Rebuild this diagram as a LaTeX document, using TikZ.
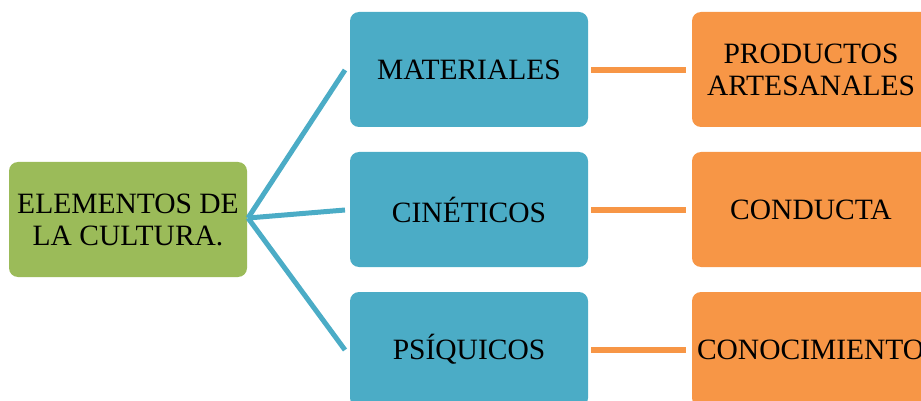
\documentclass[tikz,border=0pt]{standalone}
\usepackage{fontspec}
\setmainfont{Liberation Serif}
\definecolor{cgreen}{HTML}{9BBB59}
\definecolor{cblue}{HTML}{4BACC6}
\definecolor{corange}{HTML}{F79646}
\begin{document}
\begin{tikzpicture}[x=1pt,y=-1pt,
  box/.style={rounded corners=9pt, minimum width=238pt, minimum height=115pt, inner sep=0pt,
    align=center, font=\fontsize{29.5}{32}\selectfont, text=black},
  gbox/.style={box, fill=cgreen},
  bbox/.style={box, fill=cblue},
  obox/.style={box, fill=corange},
  bline/.style={draw=cblue, line width=5pt},
  oline/.style={draw=corange, line width=6pt}]
\useasboundingbox (0,0) rectangle (921,401);
\begin{scope}
\clip (0,0) rectangle (921,401);
\node[gbox] (g) at (128,219.5) {ELEMENTOS DE\\LA CULTURA.};
\node[bbox] (b1) at (469,69.5) {MATERIALES};
\node[bbox] (b2) at (469,209.5) {CINÉTICOS};
\node[bbox] (b3) at (469,349.5) {PSÍQUICOS};
\node[obox] (o1) at (811,69.5) {PRODUCTOS\\ARTESANALES};
\node[obox] (o2) at (811,209.5) {CONDUCTA};
\node[obox, text width=238pt, align=left] (o3) at (811,349.5) {\hspace*{5pt}\makebox[0pt][l]{CONOCIMIENTOS}};
\coordinate (j) at (248,218);
\coordinate (e1) at (345,70);
\coordinate (e2) at (345,210);
\coordinate (e3) at (345,350);
\draw[bline] (j) -- (e1);
\draw[bline] (j) -- (e2);
\draw[bline] (j) -- (e3);
\coordinate (s1) at (591,70);
\coordinate (t1) at (686,70);
\coordinate (s2) at (591,210);
\coordinate (t2) at (686,210);
\coordinate (s3) at (591,350);
\coordinate (t3) at (686,350);
\draw[oline] (s1) -- (t1);
\draw[oline] (s2) -- (t2);
\draw[oline] (s3) -- (t3);
\end{scope}
\end{tikzpicture}
\end{document}
